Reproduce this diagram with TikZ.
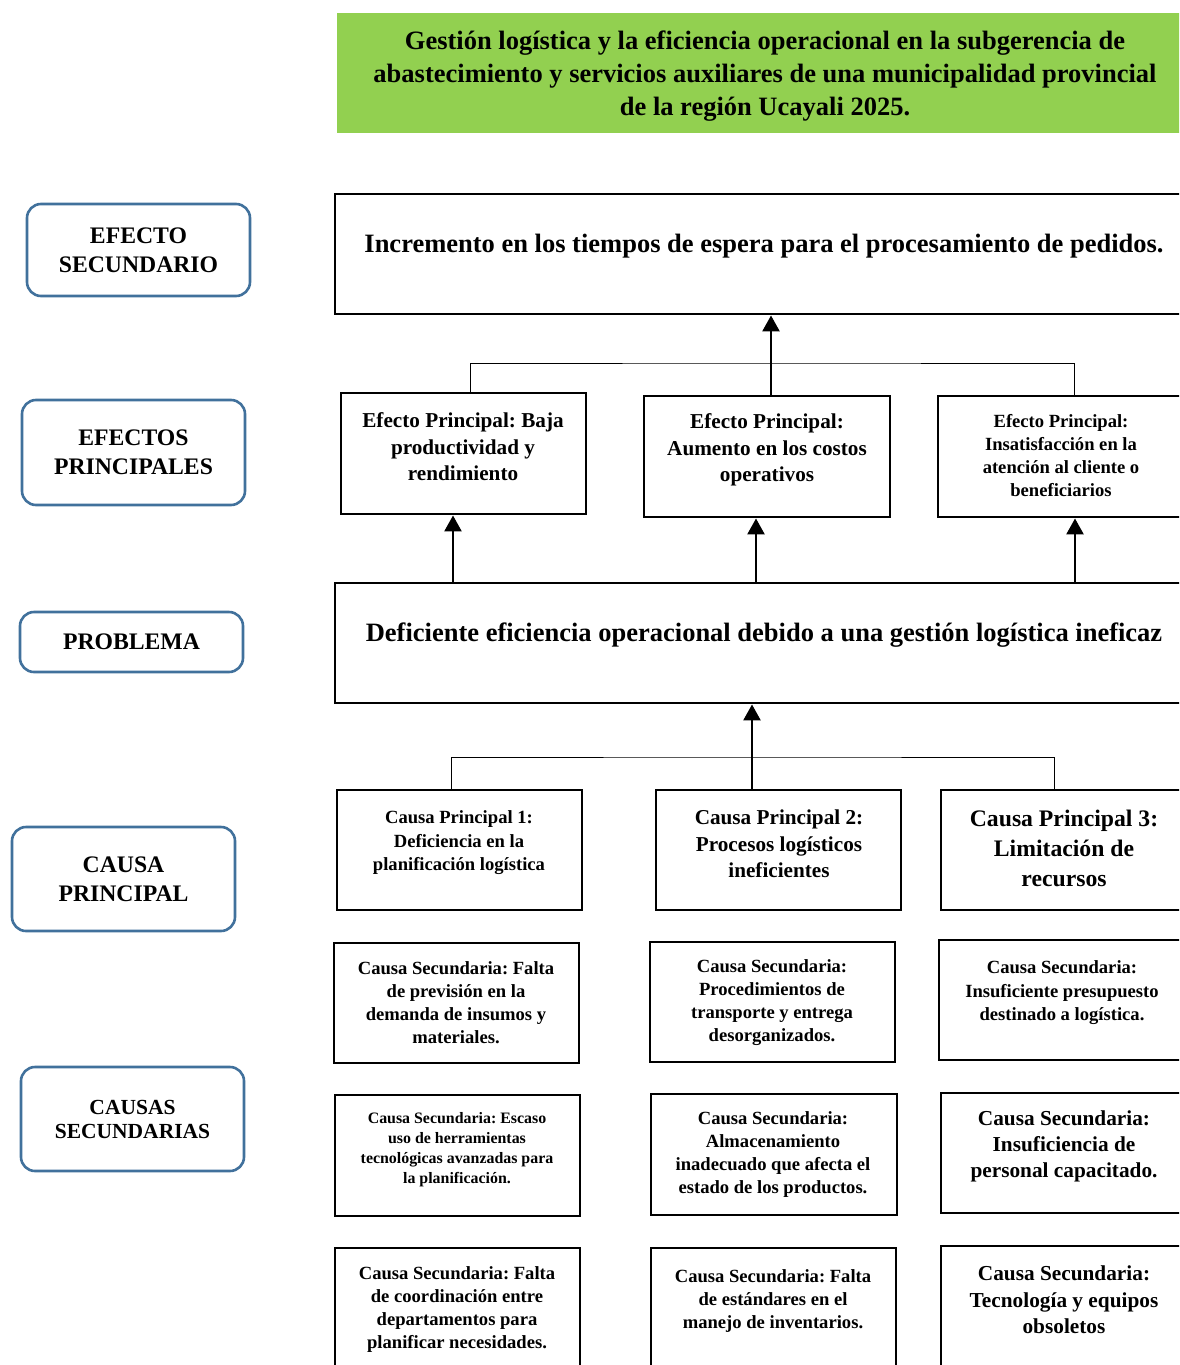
\documentclass[tikz,border=0pt]{standalone}
\usepackage{fontspec}
\setmainfont{Liberation Serif}
\usetikzlibrary{arrows.meta}
\definecolor{lblue}{HTML}{41719C}
\definecolor{tgreen}{HTML}{92D050}
\newcommand\fsz[2]{\fontsize{#1}{#2}\selectfont\bfseries}
\frenchspacing
\begin{document}
\begin{tikzpicture}[x=1pt,y=-1pt,
  lbl/.style={draw=lblue, line width=2.6pt, rounded corners=14pt, fill=white,
    minimum width=223pt, align=center, inner sep=0pt, font=\fsz{23.7}{29}},
  bx/.style={draw=black, line width=2.9pt, minimum width=245pt, minimum height=120pt, inner sep=0pt},
  txt/.style={align=center, inner sep=0pt, yshift=-2.5pt},
  conn/.style={line width=1pt},
  arr/.style={line width=2.6pt, -{Triangle[width=17pt,length=16pt]}}]
\useasboundingbox (0,0) rectangle (1179,1365);
\clip (0,0) rectangle (1179,1365);

% title
\node[fill=tgreen, minimum width=856pt, minimum height=120pt, inner sep=0pt] (title) at (765,73) {};
\node[txt, font=\fsz{26.5}{33}] (titlet) at (765,74) {Gestión logística y la eficiencia operacional en la subgerencia de\\abastecimiento y servicios auxiliares de una municipalidad provincial\\de la región Ucayali 2025.};

% left labels
\node[lbl, minimum height=92pt] (l1) at (138.5,250) {EFECTO\\SECUNDARIO};
\node[lbl, minimum height=105pt] (l2) at (133.5,452.5) {EFECTOS\\PRINCIPALES};
\node[lbl, minimum height=60pt] (l3) at (131.5,642) {\raisebox{-2pt}{PROBLEMA}};
\node[lbl, minimum height=104pt] (l4) at (123.5,879) {CAUSA\\PRINCIPAL};
\node[lbl, minimum height=104pt, font=\fsz{21.5}{24}] (l5) at (132.5,1119) {CAUSAS\\SECUNDARIAS};

% main boxes
\node[bx, minimum width=858pt] (se) at (764,254) {};
\node[txt, font=\fsz{26.5}{33}] (set) at (764,244) {Incremento en los tiempos de espera para el procesamiento de pedidos.};
\node[bx, minimum width=858pt] (pr) at (764,643) {};
\node[txt, font=\fsz{26.5}{33}] (prt) at (764,633) {Deficiente eficiencia operacional debido a una gestión logística ineficaz};

% effects
\node[bx, minimum height=121pt] (e1) at (463.5,453.5) {};
\node[txt, font=\fsz{21.2}{26.5}] (e1t) at (463,444.5) {Efecto Principal: Baja\\productividad y\\rendimiento};
\node[bx, minimum width=246pt, minimum height=121pt] (e2) at (767,456.5) {};
\node[txt, font=\fsz{21.2}{26.5}] (e2t) at (767,447.5) {Efecto Principal:\\Aumento en los costos\\operativos};
\node[bx, minimum width=246pt, minimum height=121pt] (e3) at (1061,456.5) {};
\node[txt, font=\fsz{18.6}{23}] (e3t) at (1061,453.5) {Efecto Principal:\\Insatisfacción en la\\atención al cliente o\\beneficiarios};

% causes
\node[bx] (c1) at (459.5,850) {};
\node[txt, font=\fsz{18.6}{23.5}] (c1t) at (459,840.5) {Causa Principal 1:\\Deficiencia en la\\planificación logística};
\node[bx] (c2) at (778.5,850) {};
\node[txt, font=\fsz{21.2}{26.5}] (c2t) at (779,841.5) {Causa Principal 2:\\Procesos logísticos\\ineficientes};
\node[bx] (c3) at (1063.5,850) {};
\node[txt, font=\fsz{23.7}{30}] (c3t) at (1064,846) {Causa Principal 3:\\Limitación de\\recursos};

% secondary causes
\node[bx] (s11) at (456.5,1003) {};
\node[txt, font=\fsz{18.6}{23}] (s11t) at (456,1000.5) {Causa Secundaria: Falta\\de previsión en la\\demanda de insumos y\\materiales.};
\node[bx] (s12) at (772.5,1002) {};
\node[txt, font=\fsz{18.6}{23}] (s12t) at (772,1000) {Causa Secundaria:\\Procedimientos de\\transporte y entrega\\desorganizados.};
\node[bx] (s13) at (1061.5,1000) {};
\node[txt, font=\fsz{18.6}{23.5}] (s13t) at (1062,990.5) {Causa Secundaria:\\Insuficiente presupuesto\\destinado a logística.};

\node[bx, minimum height=121pt] (s21) at (457.5,1155.5) {};
\node[txt, font=\fsz{15.9}{20}] (s21t) at (457,1147) {Causa Secundaria: Escaso\\uso de herramientas\\tecnológicas avanzadas para\\la planificación.};
\node[bx, minimum width=246pt, minimum height=121pt] (s22) at (774,1154.5) {};
\node[txt, font=\fsz{18.6}{23}] (s22t) at (773,1152.5) {Causa Secundaria:\\Almacenamiento\\inadecuado que afecta el\\estado de los productos.};
\node[bx] (s23) at (1063.5,1153) {};
\node[txt, font=\fsz{21.3}{26}] (s23t) at (1064,1144) {Causa Secundaria:\\Insuficiencia de\\personal capacitado.};

\node[bx] (s31) at (457.5,1308) {};
\node[txt, font=\fsz{18.6}{23.3}] (s31t) at (457,1307) {Causa Secundaria: Falta\\de coordinación entre\\departamentos para\\planificar necesidades.};
\node[bx] (s32) at (773.5,1308) {};
\node[txt, font=\fsz{18.6}{23}] (s32t) at (773,1299) {Causa Secundaria: Falta\\de estándares en el\\manejo de inventarios.};
\node[bx] (s33) at (1063.5,1306) {};
\node[txt, font=\fsz{21.3}{26.5}] (s33t) at (1064,1297.5) {Causa Secundaria:\\Tecnología y equipos\\obsoletos};

% connectors: effects -> secondary effect
\coordinate (je) at (771,363);
\draw[conn] ([xshift=6.5pt]e1.north) |- (je) -| ([xshift=13pt]e3.north);
\draw[arr] ([xshift=4pt]e2.north) -- ([xshift=4pt]e2.north |- se.south);

% problem -> effects
\draw[arr] ([xshift=-10.5pt]e1.south |- pr.north) -- ([xshift=-10.5pt]e1.south);
\draw[arr] ([xshift=-11pt]e2.south |- pr.north) -- ([xshift=-11pt]e2.south);
\draw[arr] ([xshift=14pt]e3.south |- pr.north) -- ([xshift=14pt]e3.south);

% causes -> problem
\coordinate (jc) at (752,757);
\draw[conn] ([xshift=-8.5pt]c1.north) |- (jc) -| ([xshift=-9.5pt]c3.north);
\draw[arr] ([xshift=-26.5pt]c2.north) -- ([xshift=-26.5pt]c2.north |- pr.south);
\end{tikzpicture}
\end{document}
